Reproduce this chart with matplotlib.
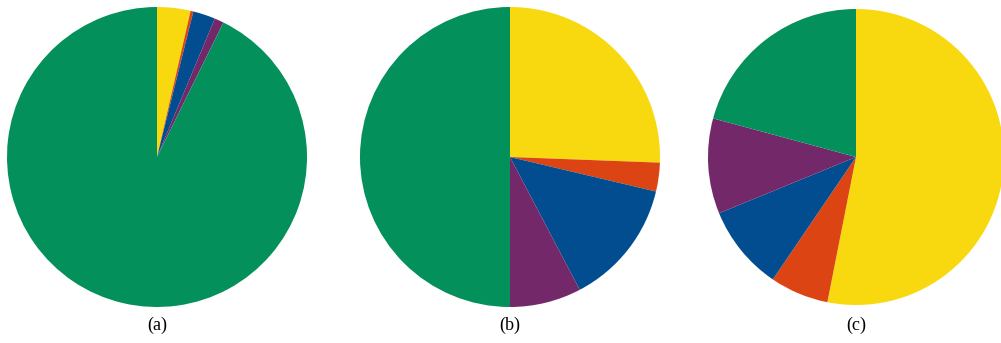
import matplotlib.pyplot as plt

# slice shares (percent), clockwise from 12 o'clock
labels = ['yellow', 'orange', 'blue', 'purple', 'green']
colors = ['#F8D90F', '#DC4414', '#024C90', '#732869', '#03905A']
share_a = [3.6, 0.3, 2.4, 1.0, 92.7]
share_b = [25.6, 3.1, 13.6, 7.7, 50.0]
share_c = [53.1, 6.4, 9.3, 10.4, 20.8]
captions = ['(a)', '(b)', '(c)']

W, H = 1001, 343
fig = plt.figure(figsize=(W / 100, H / 100), dpi=100)

# pie centres and radii in pixels
centres = [(157, 157), (510, 157), (856, 157)]
radii = [150, 150, 148]

for (cx, cy), r, vals, cap in zip(centres, radii, [share_a, share_b, share_c], captions):
    ax = fig.add_axes([(cx - r) / W, (H - cy - r) / H, 2 * r / W, 2 * r / H])
    ax.pie(vals, colors=colors, startangle=90, counterclock=False,
           radius=1, wedgeprops=dict(linewidth=0))
    ax.set_xlim(-1, 1)
    ax.set_ylim(-1, 1)
    ax.set_aspect('equal')
    ax.axis('off')
    fig.text(cx / W, 1 - 325 / H, cap, ha='center', va='center',
             fontsize=13, family='Liberation Serif')

fig.savefig('out.png', dpi=100)
